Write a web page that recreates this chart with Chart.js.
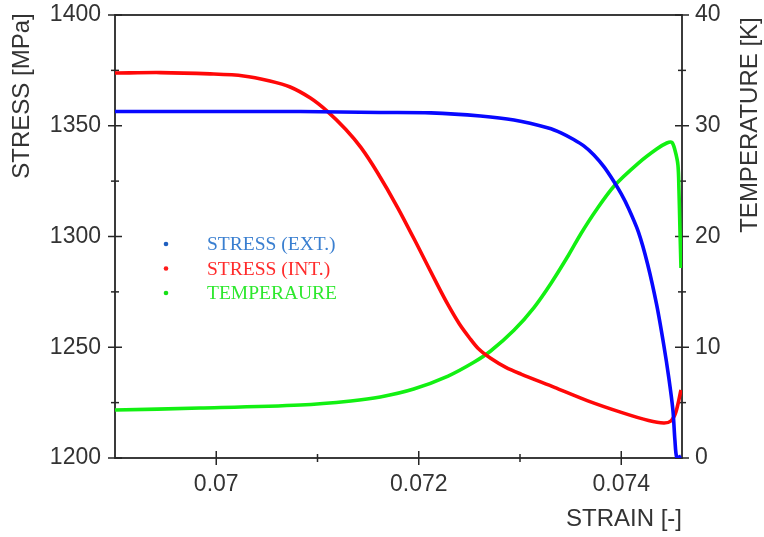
<!DOCTYPE html>
<html>
<head>
<meta charset="utf-8">
<script src="https://cdn.jsdelivr.net/npm/chart.js@4.4.0/dist/chart.umd.min.js"></script>
<style>
  html, body { margin: 0; padding: 0; background: #fff; }
</style>
</head>
<body>
<canvas id="strainChart" width="764" height="537"></canvas>
<script>
// values
const strainExt = [0.06900, 0.06984, 0.07083, 0.07162, 0.07212, 0.07261, 0.07294, 0.07328, 0.07341, 0.07353,
                   0.07363, 0.07373, 0.07383, 0.07393, 0.07400, 0.07407, 0.07417, 0.07426, 0.07435, 0.07442,
                   0.07447, 0.07451, 0.07453, 0.07455, 0.07459];
const stressExt = [1356.4, 1356.4, 1356.4, 1356.0, 1355.8, 1354.4, 1352.6, 1349.0, 1346.7, 1343.8,
                   1340.9, 1336.8, 1331.4, 1324.6, 1319.2, 1312.9, 1302.0, 1287.6, 1269.1, 1251.0,
                   1236.1, 1221.7, 1208.1, 1200.0, 1200.9];

const strainInt = [0.06900, 0.06945, 0.06994, 0.07027, 0.07053, 0.07073, 0.07093, 0.07110, 0.07128, 0.07143,
                   0.07159, 0.07179, 0.07199, 0.07219, 0.07229, 0.07240, 0.07250, 0.07259, 0.07271, 0.07286,
                   0.07301, 0.07334, 0.07367, 0.07400, 0.07427, 0.07442, 0.07449, 0.07454, 0.07459];
const stressInt = [1373.8, 1374.0, 1373.4, 1372.5, 1370.2, 1367.5, 1362.5, 1356.4, 1348.3, 1340.1,
                   1329.0, 1313.2, 1295.7, 1277.7, 1269.1, 1260.6, 1254.3, 1249.3, 1245.0, 1240.9,
                   1237.9, 1231.9, 1225.8, 1220.6, 1216.9, 1215.8, 1216.7, 1220.8, 1230.7];

const strainTemp = [0.06900, 0.06984, 0.07083, 0.07133, 0.07162, 0.07195, 0.07229, 0.07254, 0.07271, 0.07294,
                    0.07314, 0.07331, 0.07348, 0.07360, 0.07375, 0.07393, 0.07417, 0.07435, 0.07445, 0.07450,
                    0.07453, 0.07456, 0.07457, 0.07458, 0.07459];
const temperature = [4.33, 4.51, 4.79, 5.15, 5.51, 6.23, 7.40, 8.62, 9.66, 11.53,
                     13.61, 15.83, 18.33, 20.23, 22.35, 24.56, 26.63, 27.90, 28.44, 28.49,
                     27.81, 26.45, 24.20, 20.59, 17.16];

const seriesLabels = ["STRESS (EXT.)", "STRESS (INT.)", "TEMPERAURE"];

const xMajor = [0.07, 0.072, 0.074];
const xLabels = ["0.07", "0.072", "0.074"];
const xMinor = [0.071, 0.073];
const yMajor = [1200, 1250, 1300, 1350, 1400];
const yMinor = [1225, 1275, 1325, 1375];
const tMajor = [0, 10, 20, 30, 40];
const tMinor = [5, 15, 25, 35];

const FONT = '"Liberation Sans", Arial, sans-serif';
const AXIS = '#262626';

const toPoints = (xs, ys) => xs.map((x, i) => ({ x: x, y: ys[i] }));

// box frame + ticks crossing the axis lines
const frameTicks = {
  id: 'frameTicks',
  beforeDatasetsDraw(chart) {
    const { ctx, chartArea: a, scales } = chart;
    ctx.save();
    ctx.strokeStyle = AXIS;
    ctx.lineWidth = 1.8;
    ctx.strokeRect(a.left, a.top, a.right - a.left, a.bottom - a.top);
    ctx.lineWidth = 1.5;
    const hTick = (vals, len) => vals.forEach(v => {
      const px = scales.x.getPixelForValue(v);
      ctx.beginPath(); ctx.moveTo(px, a.bottom - len); ctx.lineTo(px, a.bottom + len); ctx.stroke();
    });
    const vTick = (scale, x0, vals, len) => vals.forEach(v => {
      const py = scale.getPixelForValue(v);
      ctx.beginPath(); ctx.moveTo(x0 - len, py); ctx.lineTo(x0 + len, py); ctx.stroke();
    });
    hTick(xMajor, 7); hTick(xMinor, 4);
    vTick(scales.y, a.left, yMajor, 7); vTick(scales.y, a.left, yMinor, 4);
    vTick(scales.y2, a.right, tMajor, 7); vTick(scales.y2, a.right, tMinor, 4);
    ctx.restore();
  }
};

// rotated axis titles (both read bottom to top) and the inline legend
const extras = {
  id: 'extras',
  afterDraw(chart) {
    const { ctx } = chart;
    ctx.save();
    ctx.fillStyle = '#333';
    ctx.font = '24px ' + FONT;
    ctx.textAlign = 'center';
    ctx.textBaseline = 'middle';
    [[22, 96, 'STRESS [MPa]'], [750, 125, 'TEMPERATURE [K]']].forEach(([x, y, t]) => {
      ctx.save(); ctx.translate(x, y); ctx.rotate(-Math.PI / 2); ctx.fillText(t, 0, 0); ctx.restore();
    });

    const dotColors = ['#1f5fbf', '#ff1a1a', '#16e016'];
    const textColors = ['#3a7fd0', '#ff2b2b', '#2ee82e'];
    ctx.textAlign = 'left';
    ctx.font = '19.5px "Liberation Serif", "Times New Roman", serif';
    seriesLabels.forEach((lab, i) => {
      const y = 244 + i * 24.5;
      ctx.fillStyle = dotColors[i];
      ctx.beginPath(); ctx.arc(166, y, 2.3, 0, Math.PI * 2); ctx.fill();
      ctx.fillStyle = textColors[i];
      ctx.fillText(lab, 207, y + 1);
    });
    ctx.restore();
  }
};

const line = (label, data, color, axis) => ({
  label: label,
  data: data,
  yAxisID: axis,
  showLine: true,
  borderColor: color,
  backgroundColor: color,
  borderWidth: 3.6,
  pointRadius: 0,
  tension: 0.3,
  fill: false
});

const noEdgePadding = s => { s.paddingTop = 0; s.paddingBottom = 0; };

new Chart(document.getElementById('strainChart').getContext('2d'), {
  type: 'scatter',
  data: {
    datasets: [
      line(seriesLabels[0], toPoints(strainExt, stressExt), '#0808ff', 'y'),
      line(seriesLabels[1], toPoints(strainInt, stressInt), '#ff0808', 'y'),
      line(seriesLabels[2], toPoints(strainTemp, temperature), '#12f012', 'y2')
    ]
  },
  options: {
    responsive: false,
    animation: false,
    layout: { padding: { top: 15, left: 0, right: 0, bottom: 0 } },
    plugins: {
      legend: { display: false },
      tooltip: { enabled: false }
    },
    scales: {
      x: {
        type: 'linear',
        min: 0.069,
        max: 0.0746,
        afterFit: s => { s.height = 79; s.paddingLeft = 0; s.paddingRight = 0; },
        afterBuildTicks: s => { s.ticks = xMajor.map(v => ({ value: v })); },
        grid: { display: false, drawTicks: false },
        border: { display: false },
        ticks: {
          color: '#333',
          padding: 13,
          maxRotation: 0,
          font: { family: FONT, size: 23 },
          callback: (v, i) => xLabels[i]
        },
        title: {
          display: true,
          text: 'STRAIN [-]',
          align: 'end',
          color: '#333',
          font: { family: FONT, size: 24 },
          padding: { top: 0, bottom: 3 }
        }
      },
      y: {
        position: 'left',
        min: 1200,
        max: 1400,
        afterFit: s => { s.width = 115; noEdgePadding(s); },
        afterBuildTicks: s => { s.ticks = yMajor.map(v => ({ value: v })); },
        grid: { display: false, drawTicks: false },
        border: { display: false },
        ticks: { color: '#333', padding: 14, font: { family: FONT, size: 23 }, callback: v => String(v) }
      },
      y2: {
        position: 'right',
        min: 0,
        max: 40,
        afterFit: s => { s.width = 82; noEdgePadding(s); },
        afterBuildTicks: s => { s.ticks = tMajor.map(v => ({ value: v })); },
        grid: { display: false, drawTicks: false },
        border: { display: false },
        ticks: { color: '#333', padding: 13, font: { family: FONT, size: 23 }, callback: v => String(v) }
      }
    }
  },
  plugins: [frameTicks, extras]
});
</script>
</body>
</html>
